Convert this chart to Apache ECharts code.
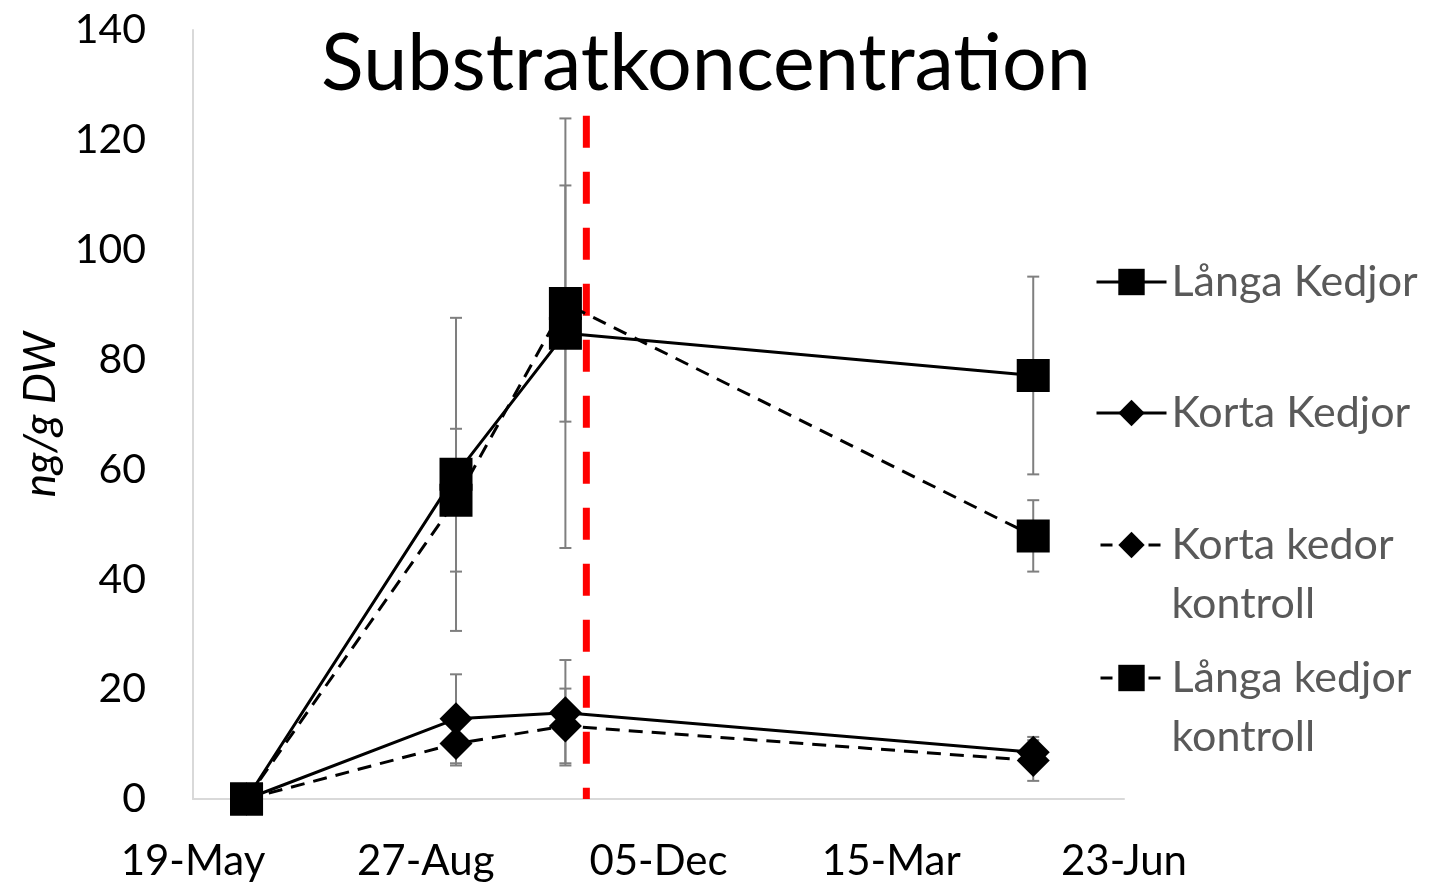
<!DOCTYPE html>
<html>
<head>
<meta charset="utf-8">
<script src="https://cdn.jsdelivr.net/npm/echarts@6/dist/echarts.min.js"></script>
<style>html,body{margin:0;padding:0;background:#fff}#c{width:1430px;height:882px}</style>
</head>
<body>
<div id="c"></div>
<script>
// ---- data ----
const baseDate = '2014-05-19';
const sampleDates = ['2014-06-11', '2014-09-09', '2014-10-26', '2015-05-15'];
const langaKedjor = [0, 59.1, 84.8, 77.1];
const langaKedjorErr = [0, 28.5, 39.1, 18.0];
const kortaKedjor = [0, 14.6, 15.7, 8.5];
const kortaKedjorErr = [0, 8.1, 9.6, 2.8];
const kortaKontroll = [0, 10.1, 13.3, 7.0];
const kortaKontrollErr = [0, 4.0, 6.8, 3.7];
const langaKontroll = [0, 54.4, 90.2, 47.9];
const langaKontrollErr = [0, 13.0, 21.5, 6.5];
const markerDates = ['2014-11-04', '2014-11-04'];
const markerValues = [124.4, 0];
const seriesNames = ['Långa Kedjor', 'Korta Kedjor', 'Korta kedor kontroll', 'Långa kedjor kontroll'];
const legendLabels = ['Långa Kedjor', 'Korta Kedjor', '\nKorta kedor\nkontroll', '\nLånga kedjor\nkontroll'];
const xTickDays = [0, 100, 200, 300, 400];
const monthNames = ['Jan','Feb','Mar','Apr','May','Jun','Jul','Aug','Sep','Oct','Nov','Dec'];

const DAY = 86400000;
const base = Date.parse(baseDate);
const toDay = d => Math.round((Date.parse(d) - base) / DAY);
const xs = sampleDates.map(toDay);
const pts = vals => vals.map((v, i) => [xs[i], v]);
const errs = (vals, e) => vals.map((v, i) => [xs[i], v - e[i], v + e[i]]);
const fmtDay = v => {
  const d = new Date(base + v * DAY);
  const dd = String(d.getUTCDate()).padStart(2, '0');
  return dd + '-' + monthNames[d.getUTCMonth()];
};

const FONT = 'Lato';
const chart = echarts.init(document.getElementById('c'), null, {renderer: 'canvas'});

function errSeries(data) {
  return {
    type: 'custom',
    z: 1,
    silent: true,
    data: data,
    renderItem: function (params, api) {
      const x = api.value(0);
      const lo = api.coord([x, api.value(1)]);
      const hi = api.coord([x, api.value(2)]);
      const w = 6;
      const st = {stroke: '#7f7f7f', lineWidth: 2};
      return {
        type: 'group',
        children: [
          {type: 'line', shape: {x1: lo[0], y1: lo[1], x2: hi[0], y2: hi[1]}, style: st},
          {type: 'line', shape: {x1: lo[0] - w, y1: lo[1], x2: lo[0] + w, y2: lo[1]}, style: st},
          {type: 'line', shape: {x1: hi[0] - w, y1: hi[1], x2: hi[0] + w, y2: hi[1]}, style: st}
        ]
      };
    }
  };
}

function lineSeries(name, vals, symbol, dashed) {
  return {
    name: name,
    type: 'line',
    z: 3,
    data: pts(vals),
    symbol: symbol,
    symbolSize: 33,
    showAllSymbol: true,
    itemStyle: {color: '#000'},
    lineStyle: {color: '#000', width: 3, type: dashed ? [14, 9] : 'solid'},
    emphasis: {disabled: true}
  };
}

function legendAt(i, top, dashed) {
  return {
    data: [seriesNames[i]],
    left: 1095,
    top: top,
    orient: 'vertical',
    padding: 0,
    itemWidth: 70,
    itemHeight: 33,
    selectedMode: false,
    lineStyle: {width: 3, type: dashed ? [12, 12] : 'solid', dashOffset: dashed ? -4 : 0},
    formatter: () => legendLabels[i],
    textStyle: {fontFamily: FONT, fontSize: 43, color: '#595959', lineHeight: 59}
  };
}

const option = {
  animation: false,
  backgroundColor: '#fff',
  title: {
    text: 'Substratkoncentration',
    left: 701,
    textAlign: 'center',
    top: 20,
    textStyle: {fontFamily: FONT, fontSize: 79, fontWeight: 'normal', color: '#000'}
  },
  legend: [legendAt(0, 252.5, false), legendAt(1, 383.5, false), legendAt(2, 456.5, true), legendAt(3, 589.5, true)],
  grid: {left: 193, right: 306, top: 30, bottom: 82},
  xAxis: {
    type: 'value',
    min: 0, max: 400, interval: 100,
    axisLine: {show: true, lineStyle: {color: '#d9d9d9', width: 2}},
    axisTick: {show: false},
    splitLine: {show: false},
    axisLabel: {fontFamily: FONT, fontSize: 42, color: '#000', margin: 41, formatter: v => xTickDays.includes(v) ? fmtDay(v) : ''}
  },
  yAxis: {
    type: 'value',
    min: 0, max: 140, interval: 20,
    name: 'ng/g DW',
    nameLocation: 'middle',
    nameGap: 130,
    nameTextStyle: {fontFamily: FONT, fontSize: 44, fontStyle: 'italic', color: '#000'},
    axisLine: {show: true, lineStyle: {color: '#d9d9d9', width: 2}},
    axisTick: {show: false},
    splitLine: {show: false},
    axisLabel: {fontFamily: FONT, fontSize: 41, color: '#000', margin: 47}
  },
  series: [
    errSeries(errs(langaKedjor, langaKedjorErr)),
    errSeries(errs(kortaKedjor, kortaKedjorErr)),
    errSeries(errs(kortaKontroll, kortaKontrollErr)),
    errSeries(errs(langaKontroll, langaKontrollErr)),
    {
      type: 'line',
      z: 2,
      silent: true,
      data: markerDates.map((d, i) => [toDay(d), markerValues[i]]),
      symbol: 'none',
      lineStyle: {color: '#ff0000', width: 7, type: [32, 24]}
    },
    lineSeries(seriesNames[0], langaKedjor, 'rect', false),
    lineSeries(seriesNames[1], kortaKedjor, 'diamond', false),
    lineSeries(seriesNames[2], kortaKontroll, 'diamond', true),
    lineSeries(seriesNames[3], langaKontroll, 'rect', true)
  ]
};
chart.setOption(option);
</script>
</body>
</html>
